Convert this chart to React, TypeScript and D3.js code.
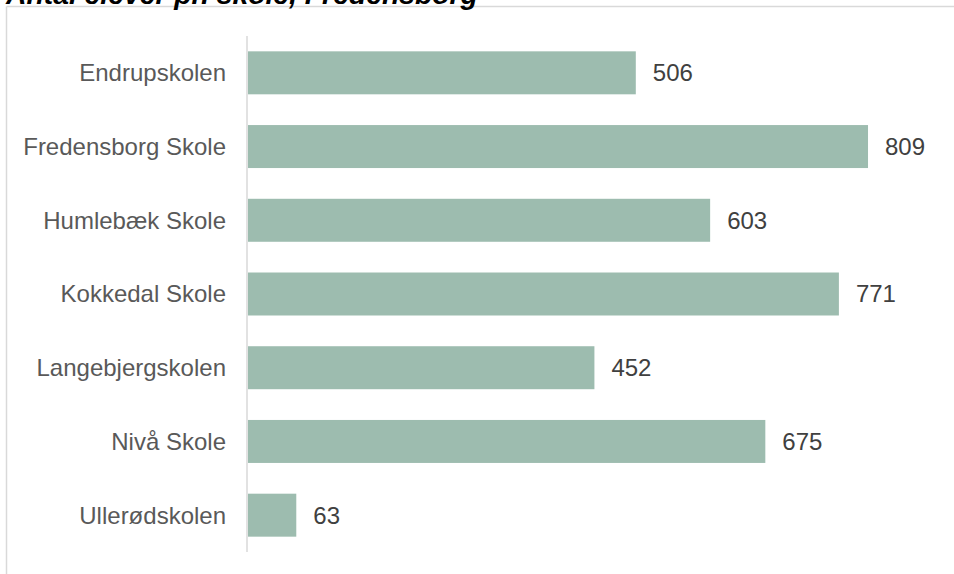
import React from "react";
import * as d3 from "d3";

const schools = [
  "Endrupskolen",
  "Fredensborg Skole",
  "Humlebæk Skole",
  "Kokkedal Skole",
  "Langebjergskolen",
  "Nivå Skole",
  "Ullerødskolen",
];
const pupils = [506, 809, 603, 771, 452, 675, 63];
const title = "Antal elever pr. skole, Fredensborg";

const W = 954;
const H = 574;

export default function App() {
  const y = d3
    .scaleBand<string>()
    .domain(schools)
    .range([36, 552])
    .paddingInner(0.417)
    .paddingOuter(0.208);
  const x = d3.scaleLinear().domain([0, 1000]).range([248, 248 + 766.4]);
  const font = "'Liberation Sans', Arial, sans-serif";
  return (
    <svg
      width={W}
      height={H}
      style={{ position: "absolute", left: 0, top: 0, background: "#fff" }}
    >
      <line x1={6.5} y1={6.5} x2={W} y2={6.5} stroke="#d9d9d9" strokeWidth={1.5} />
      <line x1={6.5} y1={6.5} x2={6.5} y2={H} stroke="#d9d9d9" strokeWidth={1.5} />
      <text
        x={6}
        y={4}
        fontFamily={font}
        fontWeight="bold"
        fontStyle="italic"
        fontSize={28.3}
        fill="#000"
      >
        {title}
      </text>
      {schools.map((s, i) => (
        <g key={s}>
          <rect
            x={x(0)}
            y={y(s)}
            width={x(pupils[i]) - x(0)}
            height={y.bandwidth()}
            fill="#9dbcaf"
          />
          <text
            x={226}
            y={(y(s) as number) + y.bandwidth() / 2}
            dy="0.35em"
            textAnchor="end"
            fontFamily={font}
            fontSize={24}
            fill="#595959"
          >
            {s}
          </text>
          <text
            x={x(pupils[i]) + 17}
            y={(y(s) as number) + y.bandwidth() / 2}
            dy="0.35em"
            fontFamily={font}
            fontSize={24}
            fill="#404040"
          >
            {pupils[i]}
          </text>
        </g>
      ))}
      <line x1={247} y1={36} x2={247} y2={552} stroke="#d9d9d9" strokeWidth={1.5} />
    </svg>
  );
}
